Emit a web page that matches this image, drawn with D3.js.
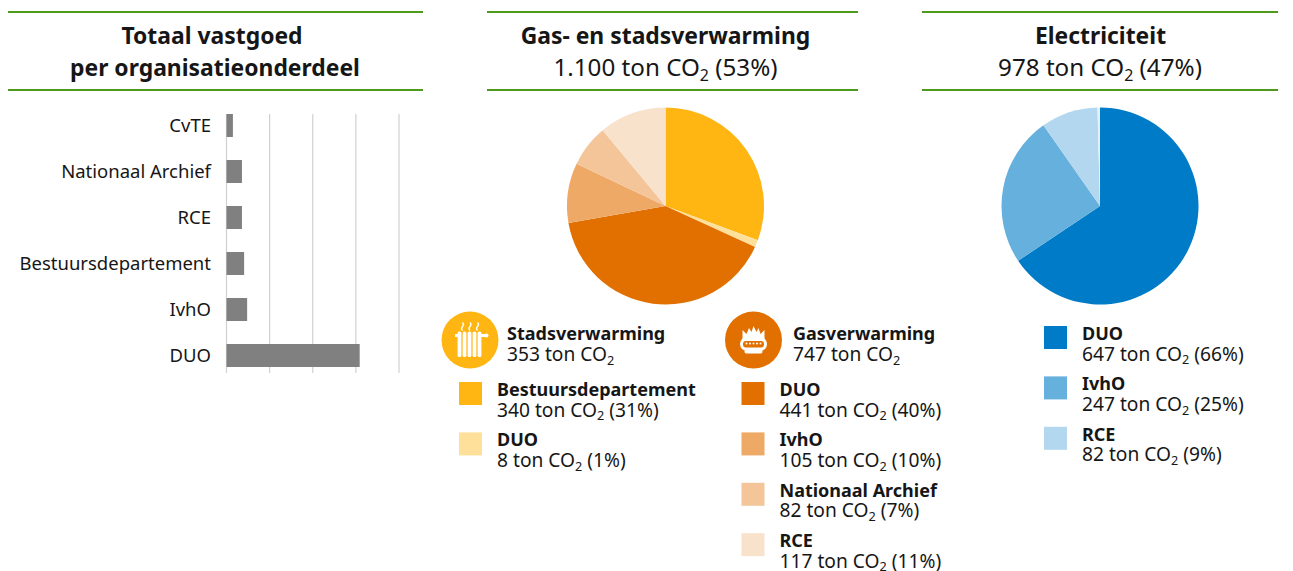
<!DOCTYPE html>
<html>
<head>
<meta charset="utf-8">
<script src="https://cdn.jsdelivr.net/npm/d3@7"></script>
<style>
  html, body { margin: 0; padding: 0; background: #fff; }
  svg { display: block; }
  text { font-family: "Noto Sans", sans-serif; fill: #161616; }
</style>
</head>
<body>
<script>
// Bar chart, total per organisation part (no value labels in the source)
var barNames = ["CvTE", "Nationaal Archief", "RCE", "Bestuursdepartement", "IvhO", "DUO"];
var barValues = [80, 185, 185, 210, 245, 1550];
var barTicks = [0, 500, 1000, 1500, 2000];

// Gas and district heating: printed labels
var heatNames = ["Bestuursdepartement", "DUO", "DUO", "IvhO", "Nationaal Archief", "RCE"];
var heatValues = [340, 8, 441, 105, 82, 117];
var heatShares = [31, 1, 40, 10, 7, 11];
var heatColors = ["#ffb612", "#ffe09a", "#e17000", "#eea966", "#f3c599", "#f8e2cc"];
// slices as drawn, they differ a bit from the printed labels
var heatSlices = [337, 13, 444, 108, 76, 121];

// Electricity: printed labels
var elecNames = ["DUO", "IvhO", "RCE"];
var elecValues = [647, 247, 82];
var elecShares = [66, 25, 9];
var elecColors = ["#007bc7", "#66b0de", "#b2d7ee", "#e5f1f9"];
// slices as drawn, the last one is a thin sliver without a legend entry
var elecSlices = [647, 243, 92, 4];

var w = 1293;
var h = 571;

var svg = d3.select("body")
            .append("svg")
            .attr("width", w)
            .attr("height", h);

// Writes "before CO2 after" with a lowered 2
function co2Text(sel, size, before, after) {
  var sub = size * 0.66;
  var drop = size * 0.19;
  sel.attr("font-size", size);
  sel.append("tspan").text(before + " CO");
  sel.append("tspan")
     .attr("font-size", sub)
     .attr("dy", drop)
     .text("2");
  if (after) {
    sel.append("tspan")
       .attr("dy", -drop)
       .text(" " + after);
  }
  return sel;
}

// Column headers with the green rules
function rules(x1, x2) {
  [12, 90].forEach(function(y) {
    svg.append("rect")
       .attr("x", x1)
       .attr("y", y - 1)
       .attr("width", x2 - x1)
       .attr("height", 2)
       .attr("fill", "#4f9a1c");
  });
}

function titleLine(x, y, str) {
  return svg.append("text")
            .attr("x", x)
            .attr("y", y)
            .attr("text-anchor", "middle")
            .attr("font-size", 22.9)
            .attr("font-weight", 700)
            .text(str);
}

function subtitleLine(x, before, after) {
  var t = svg.append("text")
             .attr("x", x)
             .attr("y", 76)
             .attr("text-anchor", "middle");
  co2Text(t, 24.2, before, after);
}

rules(8, 423);
rules(487, 858);
rules(922, 1278);

titleLine(212, 44, "Totaal vastgoed");
titleLine(215, 76, "per organisatieonderdeel");
titleLine(665.5, 44, "Gas- en stadsverwarming");
subtitleLine(665.5, "1.100 ton", "(53%)");
titleLine(1100.5, 44, "Electriciteit");
subtitleLine(1100, "978 ton", "(47%)");

// Bar chart
var xScale = d3.scaleLinear()
               .domain([0, 2000])
               .range([226, 398.5]);

var yScale = d3.scaleBand()
               .domain(barNames)
               .range([102.5, 378.5])
               .paddingInner(0.5)
               .paddingOuter(0.25);

var xAxis = d3.axisBottom(xScale)
              .tickValues(barTicks)
              .tickFormat("")
              .tickSize(259)
              .tickSizeOuter(0);

svg.append("g")
   .attr("transform", "translate(0,114)")
   .call(xAxis)
   .call(function(g) { g.select(".domain").remove(); })
   .selectAll("line")
   .attr("stroke", "#d0d0d0")
   .attr("stroke-width", 1.2);

svg.append("g")
   .selectAll("rect")
   .data(barNames)
   .enter()
   .append("rect")
   .attr("x", xScale(0) + 0.5)
   .attr("y", function(d) { return yScale(d); })
   .attr("width", function(d, i) { return xScale(barValues[i]) - xScale(0) - 0.5; })
   .attr("height", yScale.bandwidth())
   .attr("fill", "#808080");

svg.append("g")
   .selectAll("text")
   .data(barNames)
   .enter()
   .append("text")
   .attr("x", 211)
   .attr("y", function(d) { return yScale(d) + yScale.bandwidth() / 2 + 6.5; })
   .attr("text-anchor", "end")
   .attr("font-size", 18.5)
   .text(function(d) { return d; });

// Pies
function drawPie(cx, cy, r, values, colors) {
  var pie = d3.pie().sort(null)(values);
  var arc = d3.arc().innerRadius(0).outerRadius(r);
  svg.append("g")
     .attr("transform", "translate(" + cx + "," + cy + ")")
     .selectAll("path")
     .data(pie)
     .enter()
     .append("path")
     .attr("d", arc)
     .attr("fill", function(d, i) { return colors[i]; });
}

drawPie(665.5, 206, 98.5, heatSlices, heatColors);
drawPie(1100, 206, 98.5, elecSlices, elecColors);

// Legends
function legendRow(x, y, color, name, value, share) {
  svg.append("rect")
     .attr("x", x)
     .attr("y", y)
     .attr("width", 23)
     .attr("height", 23)
     .attr("fill", color);
  svg.append("text")
     .attr("x", x + 38)
     .attr("y", y + 14)
     .attr("font-size", 18)
     .attr("font-weight", 700)
     .text(name);
  var t = svg.append("text")
             .attr("x", x + 38)
             .attr("y", y + 34.5);
  co2Text(t, 19.2, value + " ton", "(" + share + "%)");
}

function iconHeader(cx, color, name, value) {
  svg.append("circle")
     .attr("cx", cx)
     .attr("cy", 340)
     .attr("r", 28.5)
     .attr("fill", color);
  svg.append("text")
     .attr("x", cx + 37 + (cx > 600 ? 2.5 : 0))
     .attr("y", 340)
     .attr("font-size", 18)
     .attr("font-weight", 700)
     .text(name);
  var t = svg.append("text")
             .attr("x", cx + 37 + (cx > 600 ? 2.5 : 0))
             .attr("y", 361);
  co2Text(t, 19.2, value + " ton");
}

iconHeader(470, heatColors[0], "Stadsverwarming", 353);
iconHeader(753.5, heatColors[2], "Gasverwarming", 747);

// rows 0-1 are district heating, rows 2-5 gas
heatNames.forEach(function(name, i) {
  var isGas = i >= 2;
  var x = isGas ? 741.5 : 459;
  var row = isGas ? i - 2 : i;
  legendRow(x, 382 + row * 50.4, heatColors[i], name, heatValues[i], heatShares[i]);
});

elecNames.forEach(function(name, i) {
  legendRow(1044, 326 + i * 50.4, elecColors[i], name, elecValues[i], elecShares[i]);
});

// Radiator icon
var radiator = svg.append("g").attr("transform", "translate(470,340)").attr("fill", "#fff");
[-10.5, -5.5, -0.5, 4.5, 9.5].forEach(function(dx) {
  radiator.append("rect")
          .attr("x", dx - 1.9)
          .attr("y", -8.5)
          .attr("width", 3.8)
          .attr("height", 25.5)
          .attr("rx", 1.6);
});
radiator.append("rect").attr("x", -15).attr("y", -6).attr("width", 4).attr("height", 3);
radiator.append("rect").attr("x", 10).attr("y", -6).attr("width", 6).attr("height", 3);
radiator.append("circle").attr("cx", 16.5).attr("cy", -4.5).attr("r", 2);
[-7.5, 0, 7.5].forEach(function(dx) {
  radiator.append("path")
          .attr("d", "M" + dx + ",-9.5 q-2,-2 0,-4 q2,-2 0,-4")
          .attr("fill", "none")
          .attr("stroke", "#fff")
          .attr("stroke-width", 1.3);
});

// Gas burner icon
var burner = svg.append("g").attr("transform", "translate(753.5,340)");
burner.append("path")
      .attr("d", "M-11,0 L-11,-10 L-7,-6 L-4.5,-12 L-2,-8 L0,-14 L3,-8 L5,-12 L7,-6 L11,-10 L11,0 Z")
      .attr("fill", "#fff");
burner.append("rect")
      .attr("x", -13.5)
      .attr("y", -3)
      .attr("width", 27)
      .attr("height", 14)
      .attr("rx", 7)
      .attr("fill", "#fff");
burner.append("rect")
      .attr("x", -10.5)
      .attr("y", 1)
      .attr("width", 21)
      .attr("height", 6.5)
      .attr("rx", 3)
      .attr("fill", heatColors[2]);
[-7, -3.5, 0, 3.5, 7].forEach(function(dx) {
  burner.append("circle").attr("cx", dx).attr("cy", 3.5).attr("r", 1).attr("fill", "#fff");
});
burner.append("rect")
      .attr("x", -9)
      .attr("y", 10)
      .attr("width", 18)
      .attr("height", 3.5)
      .attr("rx", 1.7)
      .attr("fill", "#fff");
</script>
</body>
</html>
